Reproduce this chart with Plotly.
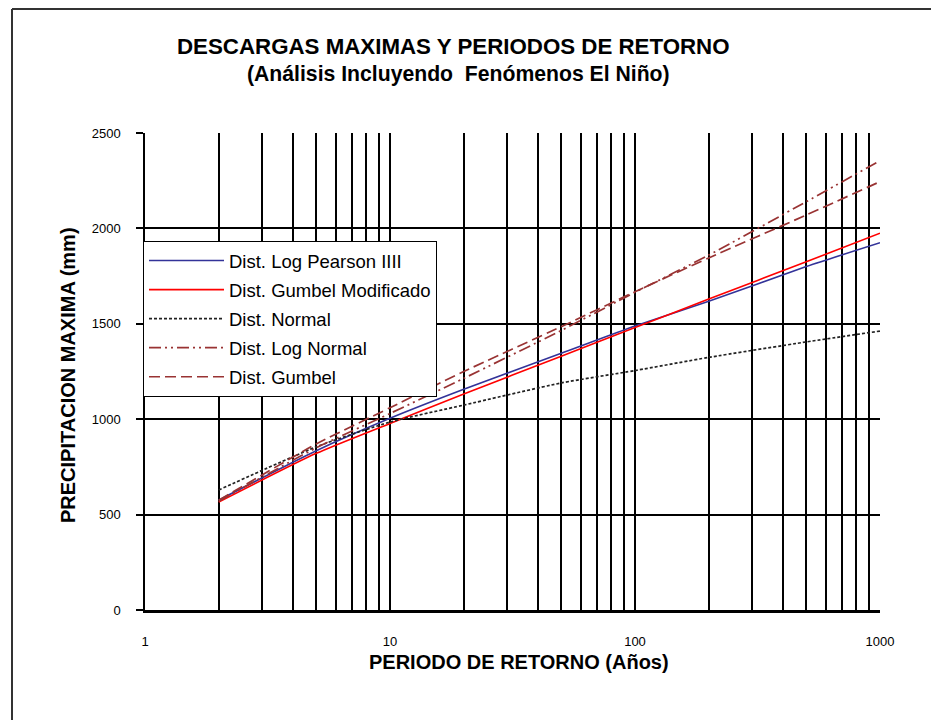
import plotly.graph_objects as go

# Return periods (years)
periodos = [2, 5, 10, 20, 50, 100, 200, 500, 1000]

# Maximum precipitation (mm) per distribution
log_pearson = [576, 835, 1005, 1157, 1345, 1488, 1618, 1800, 1925]
gumbel_mod = [566, 821, 978, 1132, 1330, 1480, 1630, 1825, 1975]
normal = [629, 855, 985, 1074, 1190, 1255, 1324, 1405, 1462]
log_normal = [570, 850, 1030, 1214, 1465, 1665, 1860, 2140, 2355]
gumbel = [575, 870, 1060, 1250, 1485, 1668, 1845, 2070, 2245]

series_names = ["Dist. Log Pearson IIII", "Dist. Gumbel Modificado", "Dist. Normal",
                "Dist. Log Normal", "Dist. Gumbel"]

x_grid_vals = [1, 2, 3, 4, 5, 6, 7, 8, 9, 10, 20, 30, 40, 50, 60, 70, 80, 90,
               100, 200, 300, 400, 500, 600, 700, 800, 900, 1000]
x_labels = {1: "1", 10: "10", 100: "100", 1000: "1000"}
y_ticks = [0, 500, 1000, 1500, 2000, 2500]

FONT = "Arial, Liberation Sans, sans-serif"
DARKRED = "#993333"

styles = [
    dict(color="#333399", width=1.6, dash="solid"),
    dict(color="#FF0000", width=1.6, dash="solid"),
    dict(color="#222222", width=1.7, dash="3px,2px"),
    dict(color=DARKRED, width=1.7, dash="12px,4px,2px,4px,2px,4px"),
    dict(color=DARKRED, width=1.7, dash="11px,5px"),
]

fig = go.Figure()
for i, (name, vals) in enumerate(zip(series_names,
                                     [log_pearson, gumbel_mod, normal, log_normal, gumbel])):
    fig.add_trace(go.Scatter(
        x=periodos, y=vals, mode="lines", name=name,
        line=dict(shape="spline", smoothing=0.6, **styles[i]),
        legendgroup=f"g{i}",
    ))

# page body has an 8px margin: work in page pixel coordinates and convert
OFF = 8
W, H = 939 - OFF, 720 - OFF
PL, PR, PT, PB = 145, 880, 133, 610  # plot area in page pixels
L, T = PL - OFF, PT - OFF
R = W - (PR - OFF)
B = H - (PB - OFF)

def px(xp):
    return (xp - PL) / (PR - PL)

def py(yp):
    return (PB - yp) / (PB - PT)

fig.update_layout(
    width=W, height=H,
    margin=dict(l=L, r=R, t=T, b=B, autoexpand=False),
    paper_bgcolor="white", plot_bgcolor="white",
    font=dict(family=FONT, color="black"),
    showlegend=True,
    legend=dict(
        x=px(143), y=py(241), xanchor="left", yanchor="top",
        bgcolor="white", bordercolor="black", borderwidth=1,
        font=dict(family=FONT, size=18.5, color="black"),
        traceorder="grouped", tracegroupgap=2,
        itemwidth=75,
    ),
    xaxis=dict(
        type="log", range=[0, 3],
        tickvals=x_grid_vals,
        ticktext=[x_labels.get(v, "") for v in x_grid_vals],
        showgrid=True, gridcolor="black", gridwidth=1.5,
        showline=True, linecolor="black", linewidth=2.5,
        ticks="", ticklabelstandoff=18,
        tickfont=dict(family=FONT, size=13, color="black"),
        zeroline=False,
    ),
    yaxis=dict(
        range=[0, 2500], tickvals=y_ticks,
        showgrid=True, gridcolor="black", gridwidth=1.5,
        showline=True, linecolor="black", linewidth=1.5,
        ticks="outside", ticklen=7, tickcolor="black", tickwidth=1.5,
        ticklabelstandoff=13,
        tickfont=dict(family=FONT, size=13, color="black"),
        zeroline=False,
    ),
    annotations=[
        dict(text="<b>DESCARGAS MAXIMAS Y PERIODOS DE RETORNO</b>",
             xref="paper", yref="paper", x=px(453), y=py(47),
             xanchor="center", yanchor="middle", showarrow=False,
             font=dict(family=FONT, size=22.3, color="black")),
        dict(text="<b>(Análisis Incluyendo  Fenómenos El Niño)</b>",
             xref="paper", yref="paper", x=px(458), y=py(74),
             xanchor="center", yanchor="middle", showarrow=False,
             font=dict(family=FONT, size=21.2, color="black")),
        dict(text="<b>PERIODO DE RETORNO (Años)</b>",
             xref="paper", yref="paper", x=px(519), y=py(662),
             xanchor="center", yanchor="middle", showarrow=False,
             font=dict(family=FONT, size=20, color="black")),
        dict(text="<b>PRECIPITACION MAXIMA (mm)</b>",
             xref="paper", yref="paper", x=px(68), y=py(375),
             xanchor="center", yanchor="middle", showarrow=False, textangle=-90,
             font=dict(family=FONT, size=20, color="black")),
    ],
    shapes=[
        dict(type="line", xref="paper", yref="paper",
             x0=px(12), x1=px(960), y0=py(9), y1=py(9),
             line=dict(color="#333333", width=2)),
        dict(type="line", xref="paper", yref="paper",
             x0=px(12), x1=px(12), y0=py(9), y1=py(740),
             line=dict(color="#333333", width=2)),
    ],
)

fig.write_html("out.html")
